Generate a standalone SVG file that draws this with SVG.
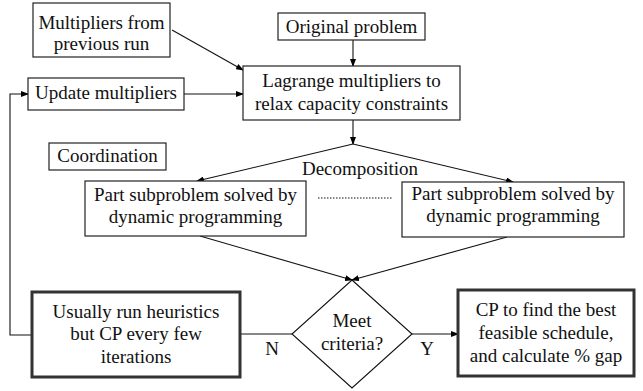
<svg xmlns="http://www.w3.org/2000/svg" width="643" height="391" viewBox="0 0 643 391">
<defs>
<marker id="ah" markerUnits="userSpaceOnUse" markerWidth="8" markerHeight="6" refX="7" refY="3" orient="auto">
<path d="M0,0 L8,3 L0,6 Z" fill="#000"/>
</marker>
<style>
text{font-family:"Liberation Serif","DejaVu Serif",serif;font-size:19px;fill:#111;text-anchor:middle}
.box{fill:#fff;stroke:#222;stroke-width:1.2}
.thick{fill:#fff;stroke:#333;stroke-width:3}
.ln{fill:none;stroke:#111;stroke-width:1.1}
</style>
</defs>
<rect width="643" height="391" fill="#fff"/>
<g id="connectors">
<line class="ln" x1="172" y1="30" x2="243" y2="70" marker-end="url(#ah)"/>
<line class="ln" x1="184" y1="94" x2="243" y2="94" marker-end="url(#ah)"/>
<line class="ln" x1="353" y1="40" x2="353" y2="66" marker-end="url(#ah)"/>
<line class="ln" x1="353" y1="120" x2="353" y2="144" marker-end="url(#ah)"/>
<line class="ln" x1="353" y1="144" x2="197" y2="181" marker-end="url(#ah)"/>
<line class="ln" x1="353" y1="144" x2="513" y2="182" marker-end="url(#ah)"/>
<line class="ln" x1="318" y1="198" x2="393" y2="198" stroke-dasharray="1.5,1.5"/>
<line class="ln" x1="200" y1="236" x2="352" y2="280" marker-end="url(#ah)"/>
<line class="ln" x1="507" y1="237" x2="352" y2="280" marker-end="url(#ah)"/>
<line class="ln" x1="240" y1="334" x2="292" y2="334"/>
<line class="ln" x1="412" y1="334" x2="458" y2="334" marker-end="url(#ah)"/>
<polyline class="ln" points="32,335 10,335 10,94 28,94" marker-end="url(#ah)"/>
<text x="272" y="355">N</text>
<text x="427" y="355">Y</text>
<text x="360" y="175">Decomposition</text>
</g>
<g id="multipliers-prev">
<rect class="box" x="33" y="3" width="137" height="54"/>
<text x="101.5" y="29">Multipliers from</text>
<text x="101.5" y="50">previous run</text>
</g>
<g id="original-problem">
<rect class="box" x="278" y="13" width="147" height="27"/>
<text x="351.5" y="33">Original problem</text>
</g>
<g id="lagrange">
<rect class="box" x="243" y="66" width="217" height="54"/>
<text x="351.5" y="87">Lagrange multipliers to</text>
<text x="351.5" y="110">relax capacity constraints</text>
</g>
<g id="update-multipliers">
<rect class="box" x="28" y="78" width="156" height="32"/>
<text x="106" y="99">Update multipliers</text>
</g>
<g id="coordination">
<rect class="box" x="49" y="143" width="117" height="27"/>
<text x="107.5" y="162">Coordination</text>
</g>
<g id="subproblem-left">
<rect class="box" x="85" y="181" width="221" height="55"/>
<text x="195.5" y="201">Part subproblem solved by</text>
<text x="195.5" y="223">dynamic programming</text>
</g>
<g id="subproblem-right">
<rect class="box" x="402" y="182" width="222" height="55"/>
<text x="513" y="200">Part subproblem solved by</text>
<text x="513" y="222">dynamic programming</text>
</g>
<g id="heuristics">
<rect class="thick" x="32" y="292" width="208" height="85"/>
<text x="136" y="318">Usually run heuristics</text>
<text x="136" y="340">but CP every few</text>
<text x="136" y="363">iterations</text>
</g>
<g id="meet-criteria">
<polygon class="ln" points="352,280 412,334 352,388 292,334" fill="#fff"/>
<text x="352" y="327">Meet</text>
<text x="352" y="350">criteria?</text>
</g>
<g id="cp-best">
<rect class="thick" x="458" y="290" width="176" height="86"/>
<text x="546" y="316">CP to find the best</text>
<text x="546" y="339">feasible schedule,</text>
<text x="546" y="362">and calculate % gap</text>
</g>
</svg>
